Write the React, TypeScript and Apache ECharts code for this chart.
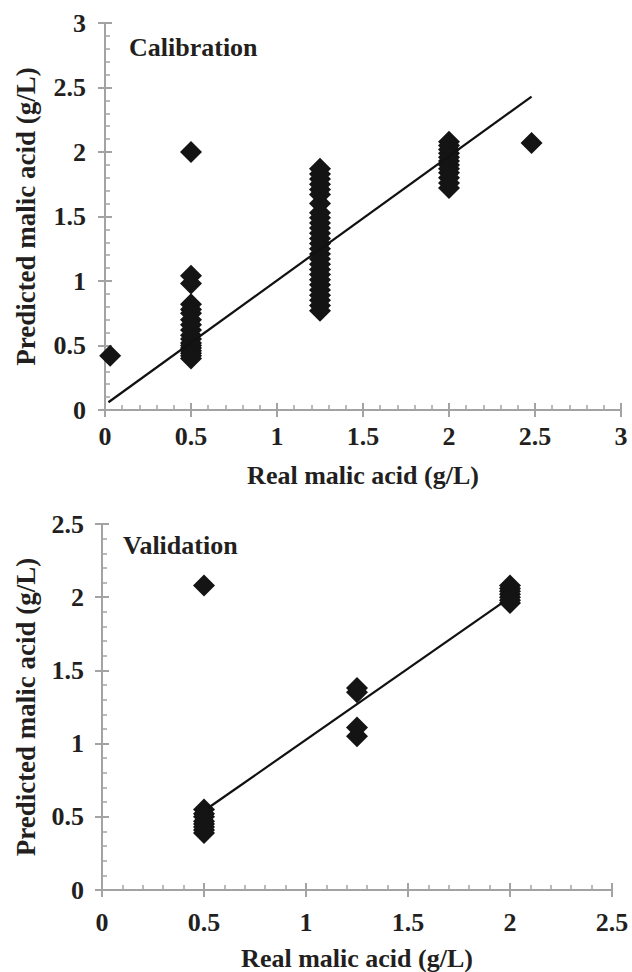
import React, { useEffect, useRef } from "react";
import * as echarts from "echarts";

// Calibration (top) data
const calX = [0.03, 0.5, 1.25, 2.0, 2.48];
const calCol0 = [0.42];
const calCol05 = [2.0, 1.04, 0.98, 0.82, 0.78, 0.75, 0.7, 0.66, 0.62, 0.58, 0.55, 0.52, 0.5, 0.48, 0.46, 0.44, 0.42, 0.4];
const calCol125 = [1.87, 1.83, 1.79, 1.75, 1.71, 1.67, 1.6, 1.53, 1.49, 1.45, 1.41, 1.37, 1.33, 1.29, 1.25, 1.21, 1.17, 1.13, 1.09, 1.05, 1.01, 0.97, 0.93, 0.89, 0.85, 0.81, 0.77];
const calCol2 = [2.08, 2.05, 2.02, 1.99, 1.96, 1.93, 1.9, 1.87, 1.84, 1.8, 1.76, 1.72];
const calCol25 = [2.07];
const calLine = [
  [0.02, 0.06],
  [2.48, 2.43],
];

// Validation (bottom) data
const valX = [0.5, 1.25, 2.0];
const valCol05 = [2.08, 0.55, 0.52, 0.5, 0.47, 0.45, 0.43, 0.41, 0.39];
const valCol125 = [1.38, 1.35, 1.11, 1.05];
const valCol2 = [2.08, 2.06, 2.04, 2.02, 2.0, 1.98, 1.96];
const valLine = [
  [0.52, 0.56],
  [1.96, 1.96],
];

const calTicks = { min: 0, max: 3, interval: 0.5 };
const valTicks = { min: 0, max: 2.5, interval: 0.5 };

const FONT = '"Liberation Serif", "Times New Roman", serif';
const TXT = "#231f20";
const AX = "#a3a3a3";

function pts(x: number, ys: number[]) {
  return ys.map((y) => [x, y]);
}

function mainAxis(kind: "x" | "y", grid: number, t: { min: number; max: number; interval: number }, name: string, nameGap: number, labelMargin: number) {
  return {
    type: "value",
    gridIndex: grid,
    min: t.min,
    max: t.max,
    interval: t.interval,
    position: kind === "x" ? "bottom" : "left",
    name,
    nameLocation: "middle",
    nameGap,
    nameTextStyle: { fontFamily: FONT, fontWeight: "bold", fontSize: kind === "x" ? 26 : 27, color: TXT },
    splitLine: { show: false },
    axisLine: { show: true, lineStyle: { color: AX, width: 2 } },
    axisTick: { show: true, inside: true, length: 7, lineStyle: { color: AX, width: 2 } },
    minorTick: { show: true, splitNumber: 5, length: 5, lineStyle: { color: AX, width: 1.5 } },
    axisLabel: {
      fontFamily: FONT,
      fontWeight: "bold",
      fontSize: 26,
      color: TXT,
      margin: labelMargin,
      formatter: (v: number) => String(v),
    },
  };
}

function overlayAxis(kind: "x" | "y", grid: number, t: { min: number; max: number; interval: number }) {
  return {
    type: "value",
    gridIndex: grid,
    min: t.min,
    max: t.max,
    interval: t.interval,
    position: kind === "x" ? "bottom" : "left",
    offset: 0,
    splitLine: { show: false },
    axisLine: { show: false },
    axisTick: { show: true, inside: false, length: 7, lineStyle: { color: AX, width: 2 } },
    axisLabel: { show: false },
  };
}

const markerStyle = { color: "#141414", opacity: 1, borderWidth: 0 };

export default function App() {
  const ref = useRef<HTMLDivElement>(null);
  useEffect(() => {
    if (!ref.current) return;
    const chart = echarts.init(ref.current, undefined, { renderer: "svg" });
    const calData = [
      ...pts(calX[0], calCol0),
      ...pts(calX[1], calCol05),
      ...pts(calX[2], calCol125),
      ...pts(calX[3], calCol2),
      ...pts(calX[4], calCol25),
    ];
    const valData = [...pts(valX[0], valCol05), ...pts(valX[1], valCol125), ...pts(valX[2], valCol2)];
    chart.setOption({
      animation: false,
      backgroundColor: "#ffffff",
      grid: [
        { left: 105, top: 23, width: 516, height: 387 },
        { left: 102, top: 524, width: 510, height: 374 },
      ],
      xAxis: [
        mainAxis("x", 0, calTicks, "Real malic acid (g/L)", 52, 13),
        overlayAxis("x", 0, calTicks),
        mainAxis("x", 1, valTicks, "Real malic acid (g/L)", 55, 19),
        overlayAxis("x", 1, valTicks),
      ],
      yAxis: [
        mainAxis("y", 0, calTicks, "Predicted malic acid (g/L)", 66, 19),
        overlayAxis("y", 0, calTicks),
        mainAxis("y", 1, valTicks, "Predicted malic acid (g/L)", 63, 18),
        overlayAxis("y", 1, valTicks),
      ],
      graphic: [
        {
          type: "text",
          left: 129,
          top: 34,
          style: { text: "Calibration", fontFamily: FONT, fontWeight: "bold", fontSize: 26, fill: TXT },
        },
        {
          type: "text",
          left: 123,
          top: 532,
          style: { text: "Validation", fontFamily: FONT, fontWeight: "bold", fontSize: 26, fill: TXT },
        },
      ],
      series: [
        {
          type: "scatter",
          xAxisIndex: 0,
          yAxisIndex: 0,
          symbol: "diamond",
          symbolSize: [22, 22],
          itemStyle: markerStyle,
          data: calData,
          z: 3,
        },
        {
          type: "line",
          xAxisIndex: 0,
          yAxisIndex: 0,
          showSymbol: false,
          symbol: "none",
          lineStyle: { color: "#111", width: 2.2 },
          data: calLine,
          z: 4,
        },
        {
          type: "scatter",
          xAxisIndex: 2,
          yAxisIndex: 2,
          symbol: "diamond",
          symbolSize: [22, 22],
          itemStyle: markerStyle,
          data: valData,
          z: 3,
        },
        {
          type: "line",
          xAxisIndex: 2,
          yAxisIndex: 2,
          showSymbol: false,
          symbol: "none",
          lineStyle: { color: "#111", width: 2.2 },
          data: valLine,
          z: 4,
        },
      ],
    });
    return () => chart.dispose();
  }, []);
  return <div ref={ref} style={{ position: "fixed", left: 0, top: 0, width: 632, height: 972 }} />;
}
